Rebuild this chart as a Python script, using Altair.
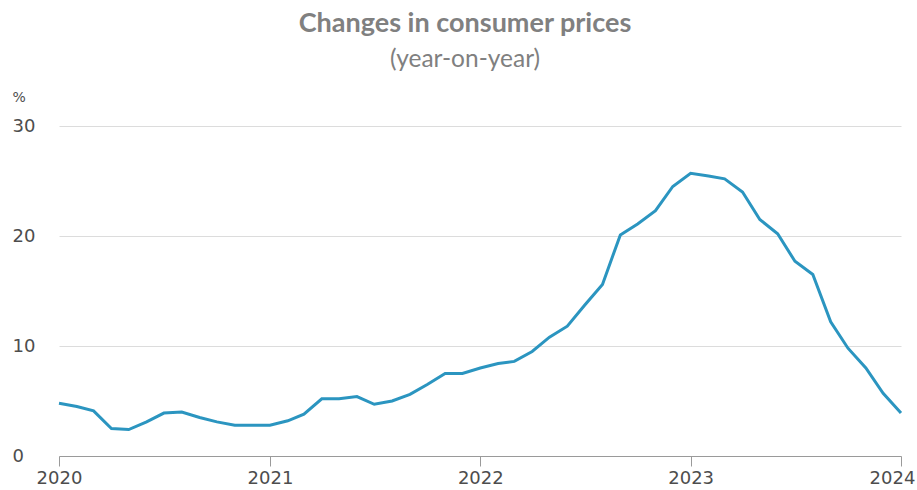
import altair as alt
import pandas as pd

months = pd.date_range("2020-01-01", "2024-01-01", freq="MS").strftime("%Y-%m-%d").tolist()
values = [
    4.8, 4.5, 4.1, 2.5, 2.4, 3.1, 3.9, 4.0, 3.5, 3.1, 2.8, 2.8,
    2.8, 3.2, 3.8, 5.2, 5.2, 5.4, 4.7, 5.0, 5.6, 6.5, 7.5, 7.5,
    8.0, 8.4, 8.6, 9.5, 10.8, 11.8, 13.7, 15.6, 20.1, 21.1, 22.3, 24.5,
    25.7, 25.45, 25.2, 24.0, 21.5, 20.2, 17.7, 16.5, 12.2, 9.8, 8.0, 5.7,
    3.9,
]
year_ticks = ["2020-01-01", "2021-01-01", "2022-01-01", "2023-01-01", "2024-01-01"]
y_ticks = [0, 10, 20, 30]

title_text = "Changes in consumer prices"
subtitle_text = "(year-on-year)"

df = pd.DataFrame({"date": months, "cpi": values})

x_enc = alt.X(
    "date:T",
    scale=alt.Scale(type="utc", domain=[months[0], months[-1]]),
    axis=alt.Axis(
        values=[pd.Timestamp(d).value // 10**6 for d in year_ticks],
        format="%Y", formatType="utc", title=None, grid=False,
        domainColor="#9a9a9a", tickColor="#9a9a9a", tickSize=10,
        labelFont="DejaVu Sans", labelFontSize=18, labelColor="#4d4d4d",
        labelPadding=3, labelFlush=False,
        labelOffset=alt.expr("datum.index === 1 ? -9 : 0"),
    ),
)
y_enc = alt.Y(
    "cpi:Q",
    scale=alt.Scale(domain=[0, 30]),
    axis=alt.Axis(
        values=y_ticks, title="%", titleAngle=0, titleX=-47, titleY=-22,
        titleAlign="left", titleFont="DejaVu Sans", titleFontSize=14,
        titleFontWeight="normal", titleColor="#4d4d4d",
        labelAlign="left", labelPadding=47, labelFont="DejaVu Sans",
        labelFontSize=18, labelColor="#4d4d4d", labelBaseline="middle",
        domain=False, ticks=False, gridColor="#dcdcdc", gridWidth=1,
    ),
)

line = alt.Chart(df).mark_line(color="#2b95c0", strokeWidth=3).encode(x=x_enc, y=y_enc)

titles = pd.DataFrame({"t": [title_text]})
title_mark = alt.Chart(titles).mark_text(
    font="Lato", fontSize=27, fontWeight="bold", color="#808080", align="center", baseline="alphabetic"
).encode(text="t:N", x=alt.value(406), y=alt.value(-94))

subs = pd.DataFrame({"t": [subtitle_text]})
sub_mark = alt.Chart(subs).mark_text(
    font="Lato", fontSize=24.5, color="#808080", align="center", baseline="alphabetic"
).encode(text="t:N", x=alt.value(406), y=alt.value(-59))

chart = alt.layer(line, title_mark, sub_mark).properties(
    width=842, height=330,
    autosize=alt.AutoSizeParams(type="none"),
    padding={"left": 59, "top": 126, "right": 16, "bottom": 34},
).configure_view(stroke=None)

chart.save("out.html", embed_options={"renderer": "svg", "actions": False})
